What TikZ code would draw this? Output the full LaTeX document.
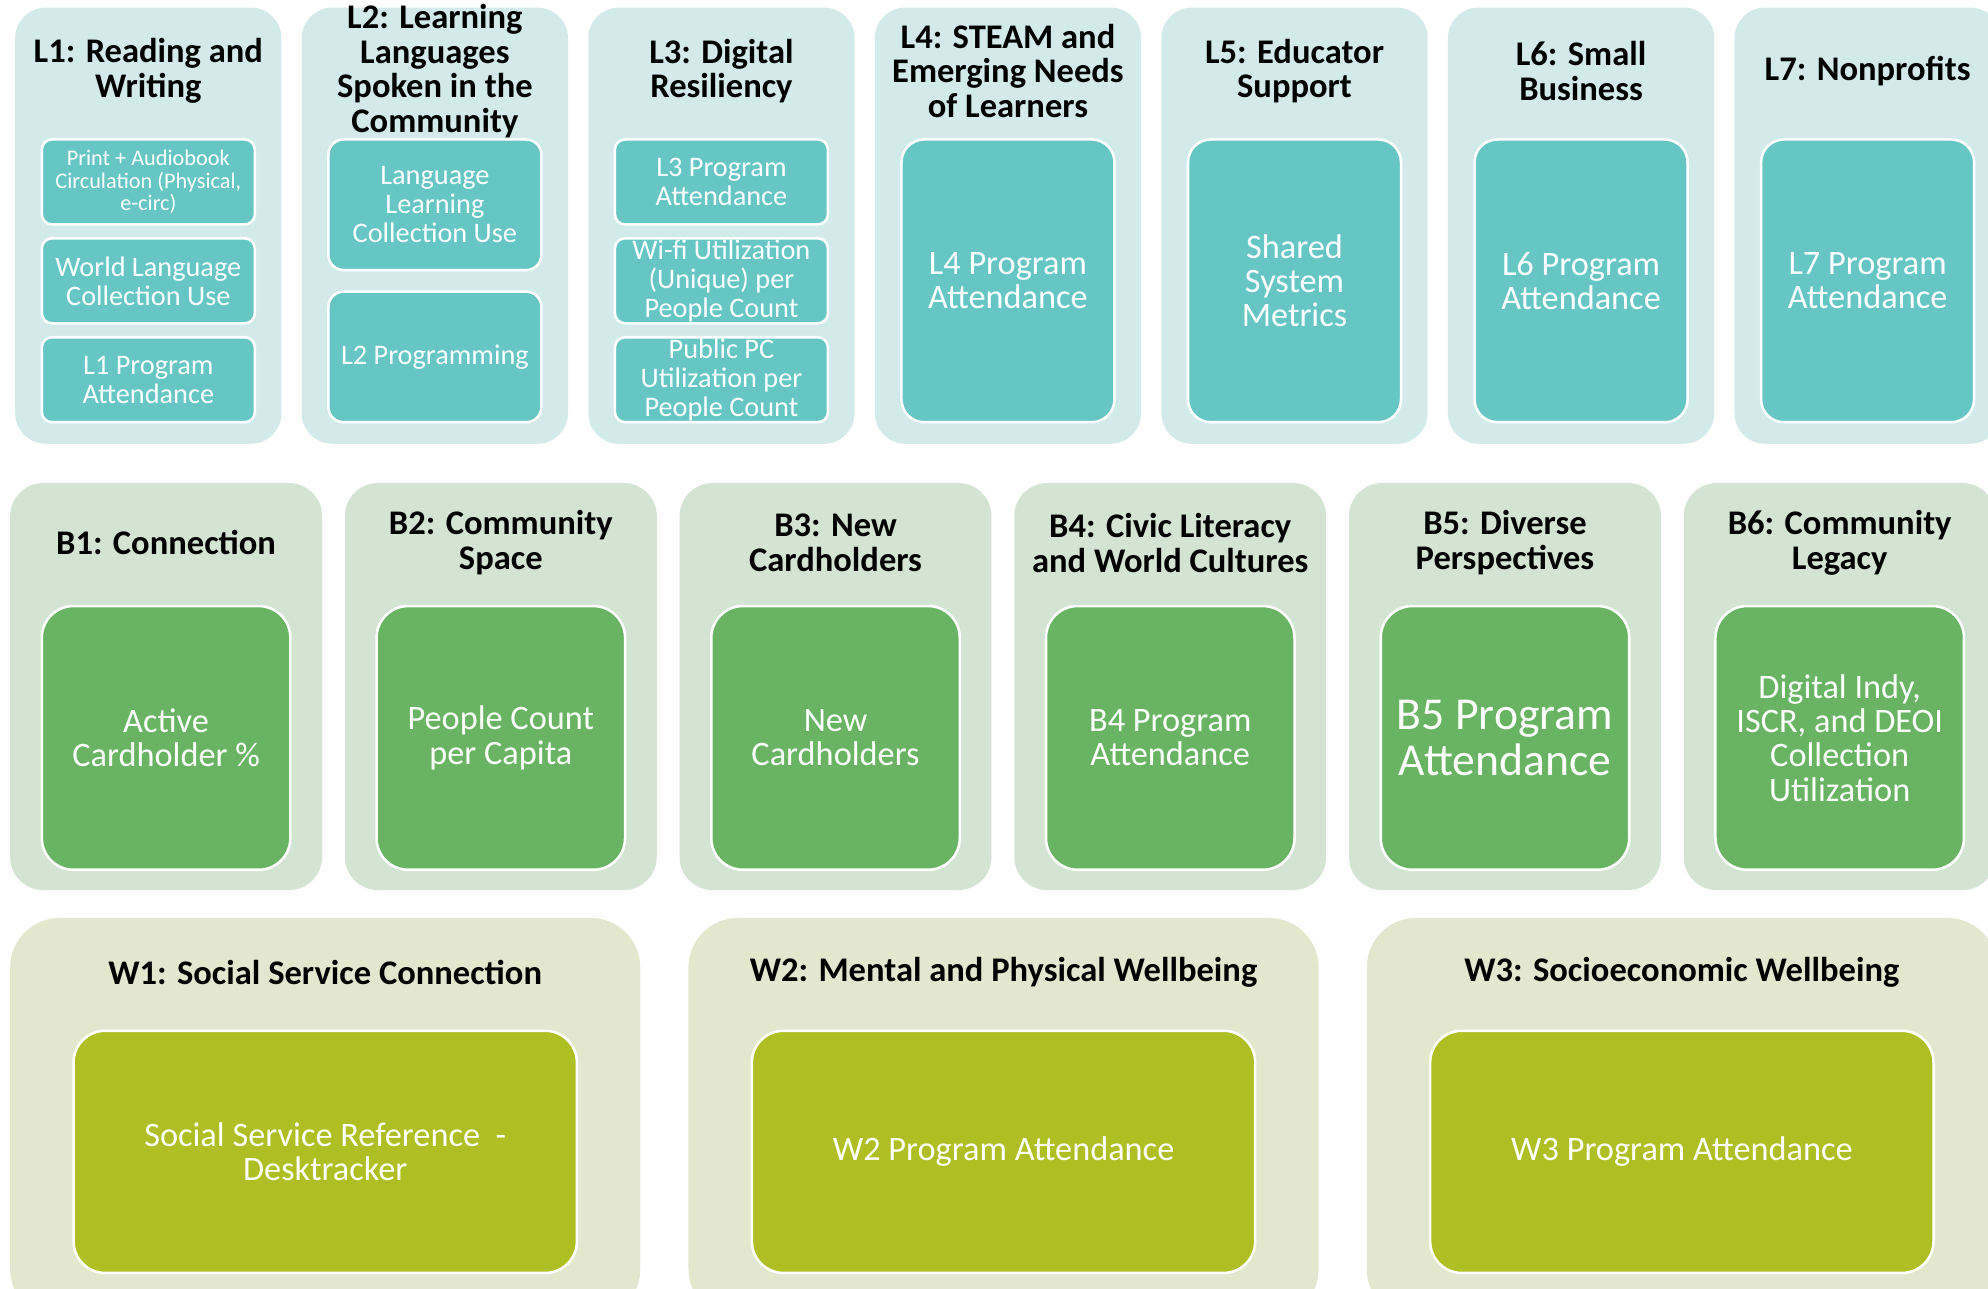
\documentclass[tikz,border=0pt]{standalone}
\usepackage{fontspec}
\setmainfont{Carlito}
\usetikzlibrary{positioning}
\definecolor{lback}{HTML}{D3EAEA}
\definecolor{lfill}{HTML}{66C6C4}
\definecolor{bback}{HTML}{D4E4D3}
\definecolor{bfill}{HTML}{68B463}
\definecolor{wback}{HTML}{E3E7CE}
\definecolor{wfill}{HTML}{AFBE22}

\begin{document}
\begin{tikzpicture}[x=0.2mm, y=-0.2mm, inner sep=0pt, outer sep=0pt,
  title/.style = {align=center, font=\bfseries\fontsize{15.5}{15.6}\selectfont},
  metric/.style = {draw=white, line width=0.4mm, text=white, align=center, font=\fontsize{15.4}{15.4}\selectfont},
  lout/.style = {fill=lback, rounded corners=4.8mm, minimum width=42mm, minimum height=68.8mm},
  lsmall/.style = {metric, fill=lfill, rounded corners=1.6mm, minimum width=33.6mm, minimum height=13.4mm, font=\fontsize{12.7}{13}\selectfont},
  lmid/.style = {lsmall, rounded corners=2.4mm, minimum height=20.6mm},
  lbig/.style = {metric, fill=lfill, rounded corners=3.6mm, minimum width=33.6mm, minimum height=44.6mm},
  bout/.style = {fill=bback, rounded corners=5.2mm, minimum width=49.2mm, minimum height=64.2mm},
  bbig/.style = {metric, fill=bfill, rounded corners=5mm, minimum width=39.2mm, minimum height=41.6mm},
  wout/.style = {fill=wback, rounded corners=7.8mm, minimum width=99.4mm, minimum height=63.2mm},
  wbig/.style = {metric, fill=wfill, rounded corners=5mm, minimum width=79.4mm, minimum height=38.2mm}]
\useasboundingbox (0,0) rectangle (1568,1016);
\clip (0,0) rectangle (1568,1016);

\node[lout, anchor=north west] (L1) at (12,6) {};
\node[lout] (L2) [right=3.2mm of L1] {};
\node[lout] (L3) [right=3.2mm of L2] {};
\node[lout] (L4) [right=3.2mm of L3] {};
\node[lout] (L5) [right=3.2mm of L4] {};
\node[lout] (L6) [right=3.2mm of L5] {};
\node[lout] (L7) [right=3.2mm of L6] {};
\node[title] (tL1) at ([yshift=-10mm]L1.north) {L1: Reading and\\Writing};
\node[title] (tL2) at ([yshift=-10mm]L2.north) {L2: Learning\\Languages\\Spoken in the\\Community};
\node[title] (tL3) at ([yshift=-10mm]L3.north) {L3: Digital\\Resiliency};
\node[title] (tL4) at ([yshift=-10mm]L4.north) {L4: STEAM and\\Emerging Needs\\of Learners};
\node[title] (tL5) at ([yshift=-10mm]L5.north) {L5: Educator\\Support};
\node[title] (tL6) at ([yshift=-10mm]L6.north) {L6: Small\\Business};
\node[title] (tL7) at ([yshift=-10mm]L7.north) {L7: Nonprofits};
\node[lsmall, font=\fontsize{10}{10.2}\selectfont] (L1a) [below=20.8mm of L1.north] {Print + Audiobook\\Circulation (Physical,\\e-circ)};
\node[lsmall] (L1b) [below=2.2mm of L1a] {World Language\\Collection Use};
\node[lsmall] (L1c) [below=2.2mm of L1b] {L1 Program\\Attendance};
\node[lmid] (L2a) [below=20.8mm of L2.north] {Language\\Learning\\Collection Use};
\node[lmid] (L2b) [below=3.4mm of L2a] {L2 Programming};
\node[lsmall] (L3a) [below=20.8mm of L3.north] {L3 Program\\Attendance};
\node[lsmall] (L3b) [below=2.2mm of L3a] {Wi-fi Utilization\\(Unique) per\\People Count};
\node[lsmall] (L3c) [below=2.2mm of L3b] {Public PC\\Utilization per\\People Count};
\node[lbig] (L4a) [below=20.8mm of L4.north] {L4 Program\\Attendance};
\node[lbig] (L5a) [below=20.8mm of L5.north] {Shared\\System\\Metrics};
\node[lbig] (L6a) [below=20.8mm of L6.north] {L6 Program\\Attendance};
\node[lbig] (L7a) [below=20.8mm of L7.north] {L7 Program\\Attendance};

\node[bout, anchor=north west] (B1) at (8,381) {};
\node[bout] (B2) [right=3.6mm of B1] {};
\node[bout] (B3) [right=3.6mm of B2] {};
\node[bout] (B4) [right=3.6mm of B3] {};
\node[bout] (B5) [right=3.6mm of B4] {};
\node[bout] (B6) [right=3.6mm of B5] {};
\node[title] (tB1) at ([yshift=-9.4mm]B1.north) {B1: Connection};
\node[title] (tB2) at ([yshift=-9.4mm]B2.north) {B2: Community\\Space};
\node[title] (tB3) at ([yshift=-9.4mm]B3.north) {B3: New\\Cardholders};
\node[title] (tB4) at ([yshift=-9.4mm]B4.north) {B4: Civic Literacy\\and World Cultures};
\node[title] (tB5) at ([yshift=-9.4mm]B5.north) {B5: Diverse\\Perspectives};
\node[title] (tB6) at ([yshift=-9.4mm]B6.north) {B6: Community\\Legacy};
\node[bbig] (B1a) [below=19.4mm of B1.north] {Active\\Cardholder \%};
\node[bbig] (B2a) [below=19.4mm of B2.north] {People Count\\per Capita};
\node[bbig] (B3a) [below=19.4mm of B3.north] {New\\Cardholders};
\node[bbig] (B4a) [below=19.4mm of B4.north] {B4 Program\\Attendance};
\node[bbig, font=\fontsize{20.5}{20.4}\selectfont] (B5a) [below=19.4mm of B5.north] {B5 Program\\Attendance};
\node[bbig] (B6a) [below=19.4mm of B6.north] {Digital Indy,\\ISCR, and DEOI\\Collection\\Utilization};

\node[wout, anchor=north west] (W1) at (8,724) {};
\node[wout] (W2) [right=7.6mm of W1] {};
\node[wout] (W3) [right=7.6mm of W2] {};
\node[title] (tW1) at ([yshift=-8.6mm]W1.north) {W1: Social Service Connection};
\node[title] (tW2) at ([yshift=-8.6mm]W2.north) {W2: Mental and Physical Wellbeing};
\node[title] (tW3) at ([yshift=-8.6mm]W3.north) {W3: Socioeconomic Wellbeing};
\node[wbig] (W1a) [below=17.8mm of W1.north] {Social Service Reference~~-\\Desktracker};
\node[wbig] (W2a) [below=17.8mm of W2.north] {W2 Program Attendance};
\node[wbig] (W3a) [below=17.8mm of W3.north] {W3 Program Attendance};
\end{tikzpicture}
\end{document}
